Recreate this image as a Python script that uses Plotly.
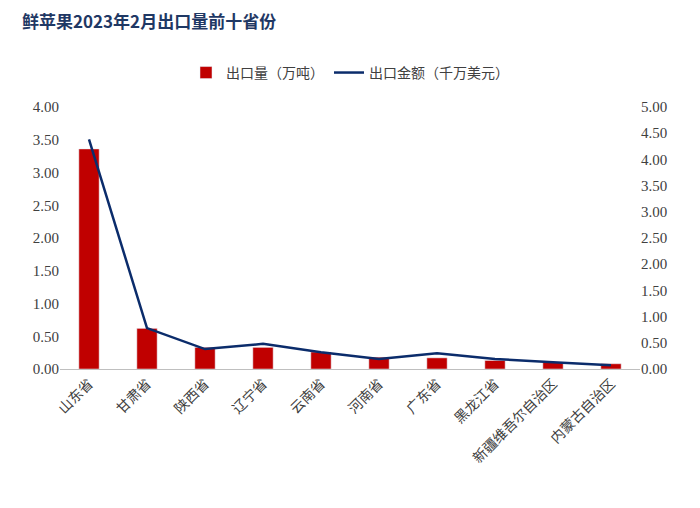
import plotly.graph_objects as go

provinces = ["山东省", "甘肃省", "陕西省", "辽宁省", "云南省", "河南省", "广东省", "黑龙江省", "新疆维吾尔自治区", "内蒙古自治区"]
volume = [3.36, 0.62, 0.33, 0.33, 0.26, 0.18, 0.17, 0.13, 0.10, 0.08]
amount = [4.38, 0.78, 0.38, 0.48, 0.32, 0.19, 0.30, 0.19, 0.13, 0.07]
left_ticks = [0, 0.5, 1, 1.5, 2, 2.5, 3, 3.5, 4]
right_ticks = [0, 0.5, 1, 1.5, 2, 2.5, 3, 3.5, 4, 4.5, 5]

font = "Noto Sans CJK SC"

fig = go.Figure()
fig.add_trace(go.Bar(x=provinces, y=volume, name="出口量（万吨）",
                     marker_color="#C00000", width=0.35))
fig.add_trace(go.Scatter(x=provinces, y=amount, name="出口金额（千万美元）", yaxis="y2",
                         mode="lines", line=dict(color="#0B2C6B", width=2.5)))

fig.update_layout(
    width=700, height=508,
    paper_bgcolor="white", plot_bgcolor="white",
    font=dict(family=font, size=13, color="#404040"),
    title=dict(text="<b>鲜苹果2023年2月出口量前十省份</b>", x=0.02, y=0.985,
               font=dict(size=17, color="#1F3864")),
    margin=dict(l=52, r=68, t=99, b=147, autoexpand=False),
    legend=dict(orientation="h", x=0.5, xanchor="center", y=1.13, yanchor="middle",
                font=dict(size=14, color="#404040")),
    xaxis=dict(tickangle=-45, showline=True, linecolor="#BFBFBF", ticks="",
               tickfont=dict(size=14, color="#404040")),
    yaxis=dict(range=[0, 4], tickvals=left_ticks, tickformat=".2f",
               showgrid=False, zeroline=False, tickfont=dict(size=15, family="Liberation Serif")),
    yaxis2=dict(range=[0, 5], tickvals=right_ticks, tickformat=".2f", overlaying="y",
                side="right", showgrid=False, zeroline=False,
                tickfont=dict(size=15, family="Liberation Serif")),
)
fig.write_html("out.html")
